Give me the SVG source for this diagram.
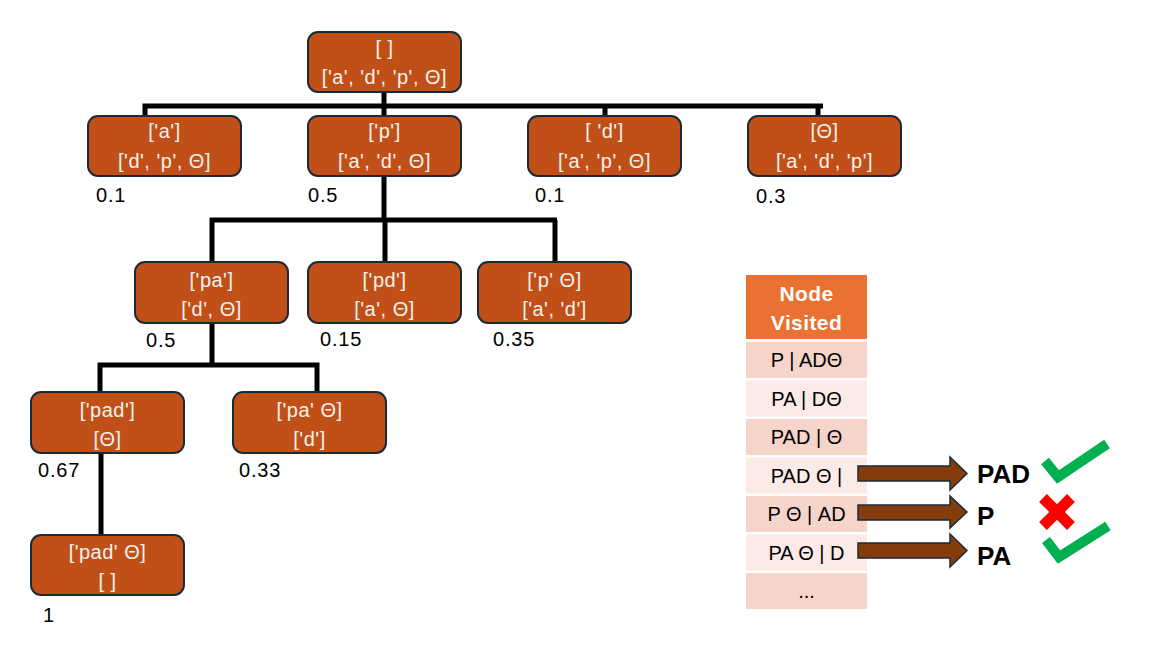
<svg xmlns="http://www.w3.org/2000/svg" width="1150" height="650" viewBox="0 0 1150 650">
<style>
.node rect{fill:#C05018;stroke:#1B2A38;stroke-width:2}
.node text{font-family:"Liberation Sans",Arial,sans-serif;font-size:20px;fill:#F4F0EE;text-anchor:middle;letter-spacing:0.5px}
.num{font-family:"Liberation Sans",Arial,sans-serif;font-size:20px;fill:#000;letter-spacing:0.8px}
.conn{fill:none;stroke:#000;stroke-width:5;stroke-linejoin:miter}
.hdr{fill:#E97132}
.rowd{fill:#F7D4C9}
.rowl{fill:#FBEAE5}
.ttxt{font-family:"Liberation Sans",Arial,sans-serif;font-size:20px;fill:#000;text-anchor:middle}
.htxt{font-family:"Liberation Sans",Arial,sans-serif;font-size:21px;font-weight:bold;fill:#FFFFFF;text-anchor:middle;letter-spacing:0.4px}
.arrow{fill:#843C0C;stroke:#1B2A38;stroke-width:1.5}
.res{font-family:"Liberation Sans",Arial,sans-serif;font-size:26px;font-weight:bold;fill:#000}
.check{fill:none;stroke:#00B050;stroke-width:10;stroke-linejoin:miter}
.cross{stroke:#FF0000;stroke-width:11}
</style>
<rect width="1150" height="650" fill="#FFFFFF"/>
<g id="connectors">
<path class="conn" d="M384,92 V106 M145,116 V106 H823 M605,106 V116 M818,106 V116 M384,106 V116"/>
<path class="conn" d="M384,176 V220 M212,262 V220 H557 M385,220 V262 M555,220 V262"/>
<path class="conn" d="M212,323 V365 M100,392 V365 H317 V392"/>
<path class="conn" d="M101,453 V535"/>
</g>
<g id="node-root" class="node"><rect x="308" y="32" width="153" height="60" rx="10"/><text x="384.5" y="55" xml:space="preserve">[ ]</text><text x="384.5" y="84">['a', 'd', 'p', Θ]</text></g>
<g id="node-a" class="node"><rect x="88" y="116" width="153" height="60" rx="10"/><text x="164.5" y="138">['a']</text><text x="164.5" y="168">['d', 'p', Θ]</text></g>
<g id="node-p" class="node"><rect x="308" y="116" width="153" height="60" rx="10"/><text x="384.5" y="138">['p']</text><text x="384.5" y="168">['a', 'd', Θ]</text></g>
<g id="node-d" class="node"><rect x="528" y="116" width="153" height="60" rx="10"/><text x="604.5" y="138" xml:space="preserve">[ 'd']</text><text x="604.5" y="168">['a', 'p', Θ]</text></g>
<g id="node-theta" class="node"><rect x="748" y="116" width="153" height="60" rx="10"/><text x="824.5" y="138">[Θ]</text><text x="824.5" y="168">['a', 'd', 'p']</text></g>
<g id="node-pa" class="node"><rect x="135" y="262" width="153" height="61" rx="10"/><text x="211.5" y="287">['pa']</text><text x="211.5" y="316">['d', Θ]</text></g>
<g id="node-pd" class="node"><rect x="308" y="262" width="153" height="61" rx="10"/><text x="384.5" y="287">['pd']</text><text x="384.5" y="316">['a', Θ]</text></g>
<g id="node-ptheta" class="node"><rect x="478" y="262" width="153" height="61" rx="10"/><text x="554.5" y="287">['p' Θ]</text><text x="554.5" y="316">['a', 'd']</text></g>
<g id="node-pad" class="node"><rect x="31" y="392" width="153" height="61" rx="10"/><text x="107.5" y="417">['pad']</text><text x="107.5" y="446">[Θ]</text></g>
<g id="node-patheta" class="node"><rect x="233" y="392" width="153" height="61" rx="10"/><text x="309.5" y="417">['pa' Θ]</text><text x="309.5" y="446">['d']</text></g>
<g id="node-padtheta" class="node"><rect x="31" y="535" width="153" height="60" rx="10"/><text x="107.5" y="559">['pad' Θ]</text><text x="107.5" y="588" xml:space="preserve">[ ]</text></g>
<g id="scores">
<text class="num" x="96" y="202">0.1</text>
<text class="num" x="308" y="202">0.5</text>
<text class="num" x="535" y="202">0.1</text>
<text class="num" x="756" y="203">0.3</text>
<text class="num" x="146" y="347">0.5</text>
<text class="num" x="320" y="346">0.15</text>
<text class="num" x="493" y="346">0.35</text>
<text class="num" x="38" y="477">0.67</text>
<text class="num" x="239" y="477">0.33</text>
<text class="num" x="43" y="622">1</text>
</g>
<g id="table">
<rect class="hdr" x="746" y="275" width="121" height="64"/>
<text class="htxt" x="806.5" y="301">Node</text>
<text class="htxt" x="806.5" y="330">Visited</text>
<rect class="rowd" x="746" y="342" width="121" height="36"/>
<rect class="rowl" x="746" y="380.5" width="121" height="36"/>
<rect class="rowd" x="746" y="419" width="121" height="36"/>
<rect class="rowl" x="746" y="457.5" width="121" height="36"/>
<rect class="rowd" x="746" y="496" width="121" height="36"/>
<rect class="rowl" x="746" y="534.5" width="121" height="36"/>
<rect class="rowd" x="746" y="573" width="121" height="36"/>
<text class="ttxt" x="806.5" y="367">P | ADΘ</text>
<text class="ttxt" x="806.5" y="405.5">PA | DΘ</text>
<text class="ttxt" x="806.5" y="444">PAD | Θ</text>
<text class="ttxt" x="806.5" y="482.5">PAD Θ |</text>
<text class="ttxt" x="806.5" y="521">P Θ | AD</text>
<text class="ttxt" x="806.5" y="559.5">PA Θ | D</text>
<text class="ttxt" x="806.5" y="598">...</text>
</g>
<g id="arrows">
<polygon class="arrow" points="858,466 950,466 950,457 967,473.5 950,490 950,481 858,481"/>
<polygon class="arrow" points="858,505 950,505 950,496 967,512 950,528 950,520 858,520"/>
<polygon class="arrow" points="858,543 950,543 950,534 967,550.5 950,567 950,558 858,558"/>
</g>
<g id="results">
<text class="res" x="977" y="483">PAD</text>
<text class="res" x="977" y="525">P</text>
<text class="res" x="977" y="565">PA</text>
<polyline class="check" points="1045,461 1058,477 1107,444"/>
<path class="cross" d="M1043,498 L1071,526 M1071,498 L1043,526"/>
<polyline class="check" points="1046,540 1059,557 1108,526"/>
</g>
</svg>
